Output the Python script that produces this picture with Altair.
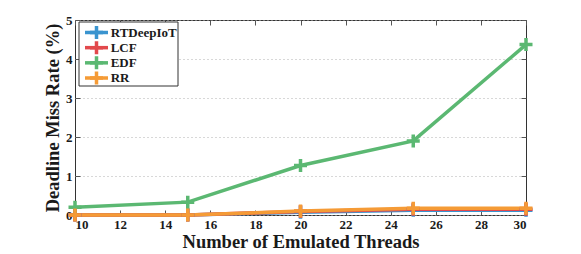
import altair as alt
import pandas as pd

threads = [10, 15, 20, 25, 30]
series_names = ["RTDeepIoT", "LCF", "EDF", "RR"]
rtdeepiot = [0.0, 0.0, 0.07, 0.12, 0.12]
lcf = [0.0, 0.0, 0.09, 0.15, 0.15]
edf = [0.2, 0.33, 1.27, 1.9, 4.37]
rr = [0.0, 0.0, 0.1, 0.17, 0.17]
colors = ["#3a94cf", "#e2494c", "#5bb872", "#f59b36"]
x_ticks = [10, 12, 14, 16, 18, 20, 22, 24, 26, 28, 30]
y_ticks = [0, 1, 2, 3, 4, 5]

rows = []
for name, vals in zip(series_names, [rtdeepiot, lcf, edf, rr]):
    for t, v in zip(threads, vals):
        rows.append({"threads": t, "rate": v, "method": name, "ord": series_names.index(name)})
df = pd.DataFrame(rows)
legend_df = pd.DataFrame({"method": series_names})

FONT = "Liberation Serif"
plus = "M-1,0L1,0M0,-1L0,1"

xscale = alt.Scale(domain=[10, 30], nice=False, zero=False)
yscale = alt.Scale(domain=[0, 5], nice=False)
cscale = alt.Scale(domain=series_names, range=colors)
color_enc = alt.Color("method:N", scale=cscale, legend=None)

common = dict(labelFont=FONT, labelFontWeight="bold", labelColor="#1a1a1a", labelFontSize=13,
              titleFont=FONT, titleFontWeight="bold", titleFontSize=18.5, titleColor="#1a1a1a",
              offset=-5, tickSize=5, domain=False, tickColor="#555555", labelOverlap=False)

x_axis = alt.Axis(values=x_ticks, title="Number of Emulated Threads", grid=False,
                  labelPadding=3, titlePadding=1, **common)
y_axis = alt.Axis(values=y_ticks, title="Deadline Miss Rate (%)", grid=True, gridDash=[1, 3],
                  gridColor="#b0b0b0", labelPadding=3, titlePadding=3, **common)

base = alt.Chart(df)

lines = base.mark_line(strokeWidth=3.5).encode(
    x=alt.X("threads:Q", scale=xscale, axis=x_axis),
    y=alt.Y("rate:Q", scale=yscale, axis=y_axis),
    color=color_enc,
    order=alt.Order("ord:Q"),
    detail="method:N",
)

points = base.mark_point(shape=plus, size=169, strokeWidth=3.5, filled=False, opacity=1).encode(
    x=alt.X("threads:Q", scale=xscale, axis=x_axis),
    y=alt.Y("rate:Q", scale=yscale, axis=y_axis),
    color=color_enc,
    order=alt.Order("ord:Q"),
)

main = alt.layer(lines, points)

box_axes = base.mark_point(opacity=0).encode(
    x=alt.X("threads:Q", scale=xscale,
            axis=alt.Axis(values=x_ticks, orient="top", labels=False, title=None, offset=-5,
                          tickSize=5, domain=False, grid=False, tickColor="#555555")),
    y=alt.Y("rate:Q", scale=yscale,
            axis=alt.Axis(values=y_ticks, orient="right", labels=False, title=None, offset=-5,
                          tickSize=5, domain=False, grid=False, tickColor="#555555")),
)

# legend drawn from the series names through a point scale
leg_y = alt.Y("method:N", scale=alt.Scale(type="point", domain=series_names, range=[12.5, 58], padding=0),
              axis=None)
leg_base = alt.Chart(legend_df)
leg_box = alt.Chart(pd.DataFrame({"k": [0]})).mark_rect(
    fill="white", stroke="#333333", strokeWidth=1).encode(
    x=alt.value(4), x2=alt.value(103), y=alt.value(2), y2=alt.value(66))
leg_lines = leg_base.mark_rule(strokeWidth=3.5).encode(
    x=alt.value(10), x2=alt.value(33), y=leg_y, color=color_enc)
leg_pts = leg_base.mark_point(shape=plus, size=169, strokeWidth=3.5, filled=False, opacity=1).encode(
    x=alt.value(21.5), y=leg_y, color=color_enc)
leg_text = leg_base.mark_text(align="left", baseline="middle", font=FONT, fontSize=13,
                              fontWeight="bold", color="#1a1a1a").encode(
    x=alt.value(35.7), y=leg_y, text="method:N")
legend = alt.layer(leg_box, leg_lines, leg_pts, leg_text)

chart = alt.layer(main, box_axes, legend).resolve_scale(y="independent").resolve_axis(
    x="independent", y="independent").properties(
    width=451, height=195,
    padding={"left": 67, "top": 12, "right": 47, "bottom": 38},
    autosize=alt.AutoSizeParams(type="none"),
).configure_view(stroke="#333333", strokeWidth=1)

chart.save("out.html", embed_options={"renderer": "svg", "actions": False})
